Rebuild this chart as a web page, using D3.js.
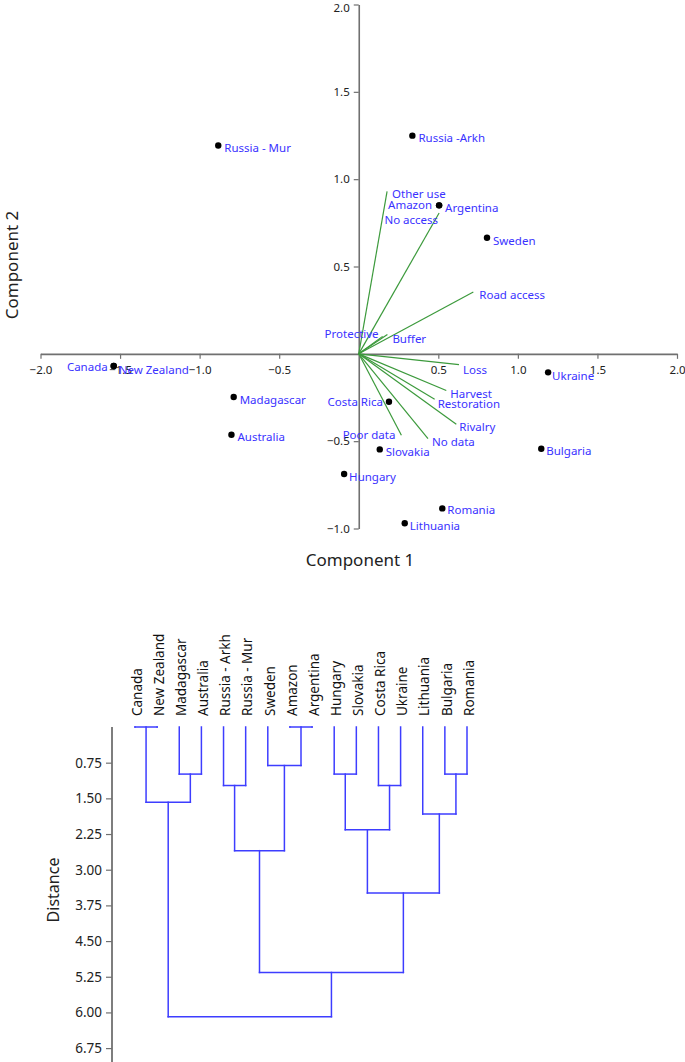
<!DOCTYPE html>
<html><head><meta charset="utf-8">
<script src="https://cdn.jsdelivr.net/npm/d3@7"></script>
<style>body{margin:0;background:#fff}svg{display:block}</style>
</head><body>
<svg id="c" width="685" height="1062"></svg>
<script>
// ---------- PCA data ----------
const countries = ["Canada","New Zealand","Madagascar","Australia","Russia -Arkh","Russia - Mur","Sweden","Amazon","Argentina","Hungary","Slovakia","Costa Rica","Ukraine","Lithuania","Bulgaria","Romania"];
const pc1 = [-1.54,-1.54,-0.786,-0.80,0.337,-0.883,0.806,0.505,0.505,-0.092,0.132,0.19,1.19,0.289,1.147,0.525];
const pc2 = [-0.07,-0.07,-0.247,-0.463,1.249,1.193,0.665,0.85,0.85,-0.688,-0.547,-0.274,-0.106,-0.97,-0.543,-0.885];

const variables = ["Other use","No access","Road access","Protective","Buffer","Loss","Harvest","Restoration","Rivalry","No data","Poor data"];
const load1 = [0.178,0.505,0.72,0.15,0.18,0.63,0.55,0.477,0.613,0.435,0.268];
const load2 = [0.93,0.806,0.354,0.10,0.11,-0.062,-0.21,-0.26,-0.403,-0.485,-0.466];

const xTicks = [-2.0,-1.5,-1.0,-0.5,0.5,1.0,1.5,2.0];
const yTicks = [-1.0,-0.5,0.5,1.0,1.5,2.0];

// ---------- Dendrogram data ----------
const leaves = ["Canada","New Zealand","Madagascar","Australia","Russia - Arkh","Russia - Mur","Sweden","Amazon","Argentina","Hungary","Slovakia","Costa Rica","Ukraine","Lithuania","Bulgaria","Romania"];
// merges: [left, right, height]; numbers refer to earlier merges
const mergeLeft  = ["Canada","Madagascar",0,"Russia - Arkh","Amazon","Sweden",3,"Hungary","Costa Rica",7,"Bulgaria","Lithuania",9,6,2];
const mergeRight = ["New Zealand","Australia",1,"Russia - Mur","Argentina",4,5,"Slovakia","Ukraine",8,"Romania",10,11,12,13];
const mergeHeight = [0,0.99,1.58,1.23,0,0.81,2.60,0.99,1.23,2.16,0.99,1.83,3.49,5.16,6.09];
const distTicks = [0.75,1.50,2.25,3.00,3.75,4.50,5.25,6.00,6.75];

// ---------- layout (styles/positions) ----------
const font = "'Noto Sans', 'DejaVu Sans', sans-serif";
const blue = "#3a32ff";
const green = "#3c9a3c";
const axisCol = "#707070";
const svg = d3.select("#c");

// label placement per name: [anchor, dx, dy]
const ptLab = {
  "Canada":["end",-6,5],"New Zealand":["start",5,8],"Madagascar":["start",6,7],"Australia":["start",6,6],
  "Russia -Arkh":["start",6,6],"Russia - Mur":["start",6,7],"Sweden":["start",6,7],"Amazon":["end",-7,4],
  "Argentina":["start",6,7],"Hungary":["start",5,7],"Slovakia":["start",6,7],"Costa Rica":["end",-6,4],
  "Ukraine":["start",4,8],"Lithuania":["start",5,7],"Bulgaria":["start",5,6],"Romania":["start",5,6]
};
const varLab = {
  "Other use":["start",5,7],"No access":["end",-1,11],"Road access":["start",6,7],"Protective":["end",-4,2],
  "Buffer":["start",5,8],"Loss":["start",4,9],"Harvest":["start",4,7],"Restoration":["start",3,9],
  "Rivalry":["start",3,7],"No data":["start",4,7],"Poor data":["end",-6,4]
};

const x = d3.scaleLinear().domain([-2,2]).range([40.5,677]);
const y = d3.scaleLinear().domain([-1,2]).range([528.5,4.5]);

// axes
const gx = svg.append("g").attr("transform",`translate(0,${y(0)})`)
  .call(d3.axisBottom(x).tickValues(xTicks).tickFormat(d3.format(".1f")).tickSize(5).tickSizeOuter(0));
const gy = svg.append("g").attr("transform",`translate(${x(0)},0)`)
  .call(d3.axisLeft(y).tickValues(yTicks).tickFormat(d3.format(".1f")).tickSize(5).tickSizeOuter(0));
[gx,gy].forEach(g=>{
  g.select(".domain").attr("stroke",axisCol).attr("stroke-width",1.6);
  g.selectAll(".tick line").attr("stroke",axisCol).attr("stroke-width",1.2);
  g.selectAll(".tick text").attr("fill","#222").style("font-family",font).style("font-size","11.5px");
});
gx.selectAll(".tick text").attr("dy","1.05em");
gy.selectAll(".tick text").attr("dx","-1");
gy.selectAll(".tick").filter(d=>d===2).select("text").attr("dy","0.6em");

// loadings
const origin = [x(0),y(0)];
svg.append("g").selectAll("line").data(variables).join("line")
  .attr("x1",origin[0]).attr("y1",origin[1])
  .attr("x2",(d,i)=>x(load1[i])).attr("y2",(d,i)=>y(load2[i]))
  .attr("stroke",green).attr("stroke-width",1.2);
svg.append("g").selectAll("text").data(variables).join("text")
  .attr("x",(d,i)=>x(load1[i])+varLab[d][1]).attr("y",(d,i)=>y(load2[i])+varLab[d][2])
  .attr("text-anchor",d=>varLab[d][0])
  .attr("fill",blue).style("font-family",font).style("font-size","11.5px").text(d=>d);

// points
svg.append("g").selectAll("circle").data(countries).join("circle")
  .attr("cx",(d,i)=>x(pc1[i])).attr("cy",(d,i)=>y(pc2[i])).attr("r",3.2).attr("fill","#000");
svg.append("g").selectAll("text").data(countries).join("text")
  .attr("x",(d,i)=>x(pc1[i])+ptLab[d][1]).attr("y",(d,i)=>y(pc2[i])+ptLab[d][2])
  .attr("text-anchor",d=>ptLab[d][0])
  .attr("fill",blue).style("font-family",font).style("font-size","11.5px").text(d=>d);

// axis titles
svg.append("text").attr("x",360).attr("y",566).attr("text-anchor","middle")
  .attr("fill","#222").style("font-family",font).style("font-size","17px").text("Component 1");
svg.append("text").attr("transform","translate(18,265) rotate(-90)").attr("text-anchor","middle")
  .attr("fill","#222").style("font-family",font).style("font-size","17px").text("Component 2");

// ---------- Dendrogram ----------
const lx = d3.scalePoint().domain(leaves).range([135,467]);
const dy = d3.scaleLinear().domain([0,7]).range([727,1060]);
const dcol = "#3d3dff";

const gAxis = svg.append("g").attr("transform","translate(112,0)")
  .call(d3.axisLeft(dy).tickValues(distTicks).tickFormat(d3.format(".2f")).tickSize(6).tickSizeOuter(0));
gAxis.select(".domain").attr("stroke",axisCol).attr("stroke-width",1.8).attr("d",`M0,${dy(0)}V1062`);
gAxis.selectAll(".tick line").attr("stroke",axisCol).attr("stroke-width",1.2);
gAxis.selectAll(".tick text").attr("fill","#222").style("font-family",font).style("font-size","13.5px").attr("dx","-1");

svg.append("text").attr("transform","translate(59,890) rotate(-90)").attr("text-anchor","middle")
  .attr("fill","#222").style("font-family",font).style("font-size","16px").text("Distance");

// leaf labels (clipped at top)
svg.append("clipPath").attr("id","lclip").append("rect").attr("x",100).attr("y",632).attr("width",420).attr("height",100);
svg.append("g").attr("clip-path","url(#lclip)").selectAll("text").data(leaves).join("text")
  .attr("transform",d=>`translate(${lx(d)+2},716) rotate(-90)`)
  .attr("dy","0.35em").attr("text-anchor","start")
  .attr("fill","#111").style("font-family",font).style("font-size","13.5px").text(d=>d);

// compute merge positions
const nodes = [];
function pos(ref){ return typeof ref === "number" ? nodes[ref] : {x:lx(ref), h:0}; }
const segs = [];
mergeHeight.forEach((h,i)=>{
  const a = pos(mergeLeft[i]), b = pos(mergeRight[i]);
  segs.push([a.x,dy(a.h),a.x,dy(h)]);
  segs.push([b.x,dy(b.h),b.x,dy(h)]);
  segs.push([a.x,dy(h),b.x,dy(h)]);
  nodes.push({x:(a.x+b.x)/2, h:h});
});
svg.append("g").selectAll("line").data(segs).join("line")
  .attr("x1",d=>d[0]).attr("y1",d=>d[1]).attr("x2",d=>d[2]).attr("y2",d=>d[3])
  .attr("stroke",dcol).attr("stroke-width",1.5).attr("stroke-linecap","square");
</script>
</body></html>
